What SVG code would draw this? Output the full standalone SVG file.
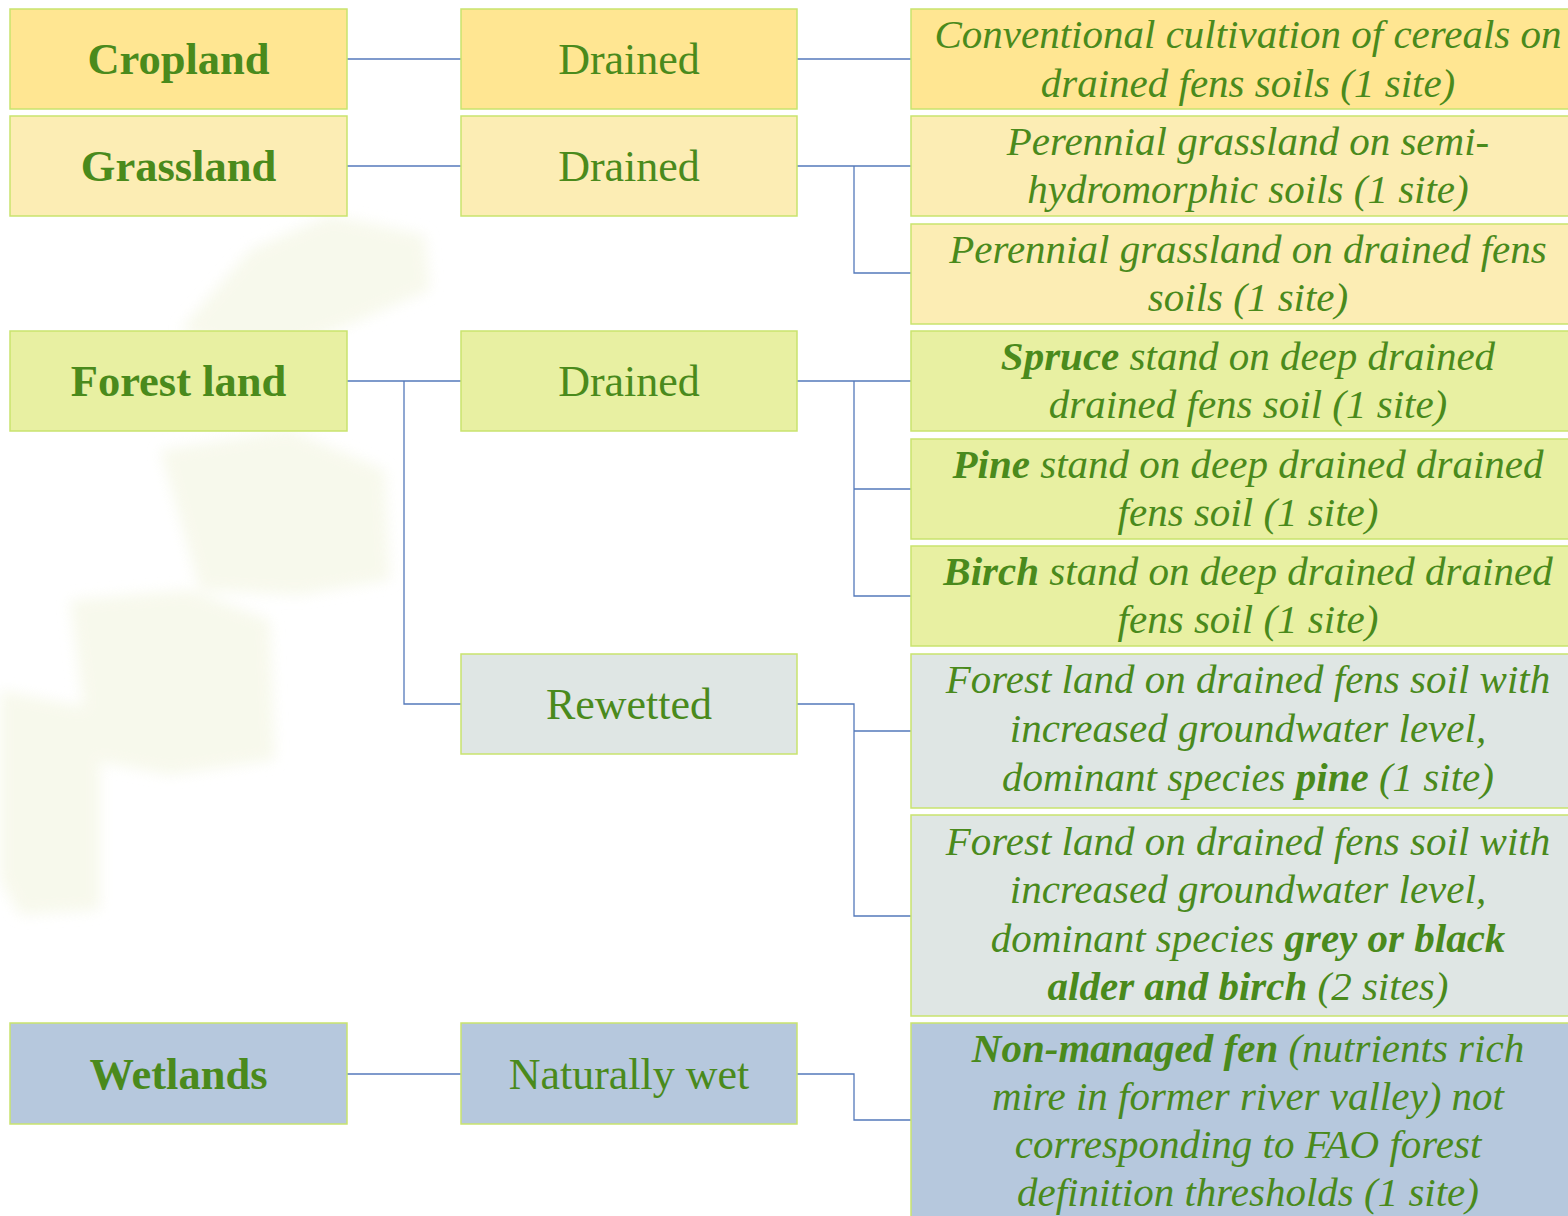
<svg xmlns="http://www.w3.org/2000/svg" width="1568" height="1216" viewBox="0 0 1568 1216">
<defs>
<style>
.box{stroke:#C9E36E;stroke-width:1.5}
.crop{fill:#FFE692}
.grass{fill:#FCEDB4}
.forest{fill:#E8F0A2}
.rewet{fill:#DFE6E4}
.wet{fill:#B6C8DD}
.t1{font-family:"Liberation Serif","DejaVu Serif",serif;font-weight:bold;font-size:44.5px;fill:#4A8A1C;text-anchor:middle}
.t2{font-family:"Liberation Serif","DejaVu Serif",serif;font-size:44px;fill:#4A8A1C;text-anchor:middle}
.t3{font-family:"Liberation Serif","DejaVu Serif",serif;font-style:italic;font-size:41px;fill:#4A8A1C;text-anchor:middle}
.b{font-weight:bold}
.conn{fill:none;stroke:#5479BB;stroke-width:1.3}
.wm{fill:#F5F7E6}
</style>
<filter id="blur" x="-20%" y="-20%" width="140%" height="140%"><feGaussianBlur stdDeviation="7"/></filter>
</defs>
<rect width="1568" height="1216" fill="#FFFFFF"/>
<g id="watermark" filter="url(#blur)" opacity="0.75">
<polygon class="wm" points="180,330 250,250 330,215 425,235 430,290 360,320 260,360"/>
<polygon class="wm" points="160,450 290,430 385,470 390,580 300,595 200,590"/>
<polygon class="wm" points="70,600 190,590 270,620 275,760 170,775 90,760"/>
<polygon class="wm" points="0,690 100,710 100,910 20,915 0,880"/>
</g>
<g id="connectors">
<path class="conn" d="M347,59 H461"/>
<path class="conn" d="M797,59 H911"/>
<path class="conn" d="M347,166 H461"/>
<path class="conn" d="M797,166 H911 M854,166 V273 H911"/>
<path class="conn" d="M347,381 H461 M404,381 V704 H461"/>
<path class="conn" d="M797,381 H911 M854,381 V596 H911 M854,489 H911"/>
<path class="conn" d="M797,704 H854 V916 H911 M854,731 H911"/>
<path class="conn" d="M347,1074 H461"/>
<path class="conn" d="M797,1074 H854 V1120 H911"/>
</g>
<g id="cropland">
<rect class="box crop" x="10" y="9" width="337" height="100"/>
<text class="t1" x="178.5" y="74">Cropland</text>
</g>
<g id="cropland-drained">
<rect class="box crop" x="461" y="9" width="336" height="100"/>
<text class="t2" x="629" y="74">Drained</text>
</g>
<g id="cropland-cereals">
<rect class="box crop" x="911" y="9" width="680" height="100"/>
<text class="t3" x="1248" y="48">Conventional cultivation of cereals on</text>
<text class="t3" x="1248" y="97">drained fens soils (1 site)</text>
</g>
<g id="grassland">
<rect class="box grass" x="10" y="116" width="337" height="100"/>
<text class="t1" x="178.5" y="181">Grassland</text>
</g>
<g id="grassland-drained">
<rect class="box grass" x="461" y="116" width="336" height="100"/>
<text class="t2" x="629" y="181">Drained</text>
</g>
<g id="grassland-semi">
<rect class="box grass" x="911" y="116" width="680" height="100"/>
<text class="t3" x="1248" y="155">Perennial grassland on semi-</text>
<text class="t3" x="1248" y="203">hydromorphic soils (1 site)</text>
</g>
<g id="grassland-fens">
<rect class="box grass" x="911" y="224" width="680" height="100"/>
<text class="t3" x="1248" y="263">Perennial grassland on drained fens</text>
<text class="t3" x="1248" y="311">soils (1 site)</text>
</g>
<g id="forest">
<rect class="box forest" x="10" y="331" width="337" height="100"/>
<text class="t1" x="178.5" y="396">Forest land</text>
</g>
<g id="forest-drained">
<rect class="box forest" x="461" y="331" width="336" height="100"/>
<text class="t2" x="629" y="396">Drained</text>
</g>
<g id="spruce">
<rect class="box forest" x="911" y="331" width="680" height="100"/>
<text class="t3" x="1248" y="370"><tspan class="b">Spruce</tspan> stand on deep drained</text>
<text class="t3" x="1248" y="418">drained fens soil (1 site)</text>
</g>
<g id="pine">
<rect class="box forest" x="911" y="439" width="680" height="100"/>
<text class="t3" x="1248" y="478"><tspan class="b">Pine</tspan> stand on deep drained drained</text>
<text class="t3" x="1248" y="526">fens soil (1 site)</text>
</g>
<g id="birch">
<rect class="box forest" x="911" y="546" width="680" height="100"/>
<text class="t3" x="1248" y="585"><tspan class="b">Birch</tspan> stand on deep drained drained</text>
<text class="t3" x="1248" y="633">fens soil (1 site)</text>
</g>
<g id="forest-rewetted">
<rect class="box rewet" x="461" y="654" width="336" height="100"/>
<text class="t2" x="629" y="719">Rewetted</text>
</g>
<g id="rewetted-pine">
<rect class="box rewet" x="911" y="654" width="680" height="154"/>
<text class="t3" x="1248" y="693">Forest land on drained fens soil with</text>
<text class="t3" x="1248" y="742">increased groundwater level,</text>
<text class="t3" x="1248" y="791">dominant species <tspan class="b">pine</tspan> (1 site)</text>
</g>
<g id="rewetted-alder">
<rect class="box rewet" x="911" y="815" width="680" height="201"/>
<text class="t3" x="1248" y="855">Forest land on drained fens soil with</text>
<text class="t3" x="1248" y="903">increased groundwater level,</text>
<text class="t3" x="1248" y="952">dominant species <tspan class="b">grey or black</tspan></text>
<text class="t3" x="1248" y="1000"><tspan class="b">alder and birch</tspan> (2 sites)</text>
</g>
<g id="wetlands">
<rect class="box wet" x="10" y="1023" width="337" height="101"/>
<text class="t1" x="178.5" y="1089">Wetlands</text>
</g>
<g id="naturally-wet">
<rect class="box wet" x="461" y="1023" width="336" height="101"/>
<text class="t2" x="629" y="1089">Naturally wet</text>
</g>
<g id="non-managed-fen">
<rect class="box wet" x="911" y="1023" width="680" height="220"/>
<text class="t3" x="1248" y="1062"><tspan class="b">Non-managed fen</tspan> (nutrients rich</text>
<text class="t3" x="1248" y="1110">mire in former river valley) not</text>
<text class="t3" x="1248" y="1158">corresponding to FAO forest</text>
<text class="t3" x="1248" y="1206">definition thresholds (1 site)</text>
</g>
</svg>
